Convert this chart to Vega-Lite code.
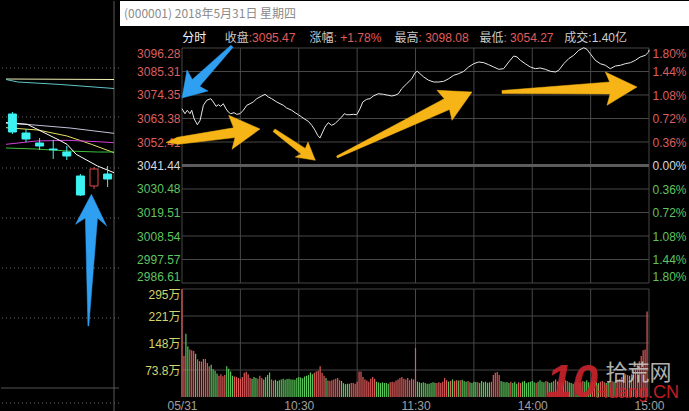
{
  "$schema": "https://vega.github.io/schema/vega-lite/v6.json",
  "background": "#000000",
  "padding": 0,
  "spacing": 0,
  "config": {
    "view": {"stroke": null},
    "concat": {"spacing": 0},
    "axis": {"domain": false, "ticks": false, "grid": false, "labelFont": "Liberation Sans", "labelFontSize": 12, "title": null, "labelOverlap": false},
    "font": "Liberation Sans"
  },
  "datasets": {
    "header": [{"t": "(000001) 2018年5月31日 星期四"}],
    "stats": [
      {"k": "分时", "v": ""},
      {"k": "收盘", "v": ":3095.47"},
      {"k": "涨幅", "v": ":  +1.78%"},
      {"k": "最高", "v": ":  3098.08"},
      {"k": "最低", "v": ":  3054.27"},
      {"k": "成交", "v": ":1.40亿"}
    ],
    "gridx": [{"m": 0}, {"m": 30}, {"m": 60}, {"m": 90}, {"m": 120}, {"m": 150}, {"m": 180}, {"m": 210}, {"m": 240}],
    "gridy": [
      {"p": 2986.61, "pct": -1.8}, {"p": 2997.57, "pct": -1.44}, {"p": 3008.54, "pct": -1.08}, {"p": 3019.51, "pct": -0.72},
      {"p": 3030.48, "pct": -0.36}, {"p": 3041.44, "pct": 0}, {"p": 3052.41, "pct": 0.36}, {"p": 3063.38, "pct": 0.72},
      {"p": 3074.35, "pct": 1.08}, {"p": 3085.31, "pct": 1.44}, {"p": 3096.28, "pct": 1.8}
    ],
    "prices": [
      {"m": 0, "p": 3067.95}, {"m": 1.5, "p": 3065.62}, {"m": 2.7, "p": 3067.21}, {"m": 4.1, "p": 3065.62}, {"m": 5.0, "p": 3067.21},
      {"m": 6.2, "p": 3063.29}, {"m": 7.9, "p": 3060.49}, {"m": 9.3, "p": 3062.54}, {"m": 11.0, "p": 3069.54}, {"m": 12.7, "p": 3071.87},
      {"m": 14.8, "p": 3072.62}, {"m": 16.1, "p": 3071.08}, {"m": 17.5, "p": 3069.07}, {"m": 18.7, "p": 3069.82}, {"m": 19.9, "p": 3069.07},
      {"m": 21.2, "p": 3070.29}, {"m": 22.6, "p": 3067.95}, {"m": 23.8, "p": 3066.41}, {"m": 25.0, "p": 3065.62}, {"m": 26.7, "p": 3066.09},
      {"m": 28.1, "p": 3065.34}, {"m": 29.8, "p": 3065.62}, {"m": 31.5, "p": 3067.21}, {"m": 33.3, "p": 3069.54}, {"m": 35.0, "p": 3070.29},
      {"m": 36.6, "p": 3071.08}, {"m": 38.4, "p": 3072.62}, {"m": 41.0, "p": 3073.88}, {"m": 42.7, "p": 3074.67}, {"m": 44.4, "p": 3073.41},
      {"m": 46.1, "p": 3072.62}, {"m": 48.7, "p": 3071.08}, {"m": 50.4, "p": 3070.29}, {"m": 52.1, "p": 3069.54}, {"m": 53.8, "p": 3068.28},
      {"m": 56.4, "p": 3067.21}, {"m": 58.1, "p": 3066.09}, {"m": 59.8, "p": 3065.15}, {"m": 61.5, "p": 3064.08}, {"m": 63.2, "p": 3063.01},
      {"m": 64.9, "p": 3062.07}, {"m": 66.7, "p": 3060.21}, {"m": 68.4, "p": 3057.87}, {"m": 69.7, "p": 3055.54}, {"m": 70.9, "p": 3054.27},
      {"m": 72.3, "p": 3057.08}, {"m": 73.5, "p": 3059.41}, {"m": 75.2, "p": 3061.42}, {"m": 76.9, "p": 3060.21}, {"m": 78.6, "p": 3060.95},
      {"m": 80.3, "p": 3062.54}, {"m": 82.1, "p": 3064.08}, {"m": 83.4, "p": 3065.62}, {"m": 84.6, "p": 3065.15}, {"m": 86.3, "p": 3065.15},
      {"m": 88.0, "p": 3065.34}, {"m": 89.8, "p": 3065.15}, {"m": 91.5, "p": 3067.95}, {"m": 92.9, "p": 3071.08}, {"m": 94.9, "p": 3072.34},
      {"m": 96.6, "p": 3072.62}, {"m": 98.3, "p": 3073.88}, {"m": 100.9, "p": 3074.95}, {"m": 103.5, "p": 3074.67}, {"m": 106.0, "p": 3074.21},
      {"m": 107.8, "p": 3073.88}, {"m": 109.5, "p": 3074.21}, {"m": 111.2, "p": 3074.95}, {"m": 112.9, "p": 3077.29}, {"m": 115.5, "p": 3079.62},
      {"m": 118.1, "p": 3081.95}, {"m": 119.8, "p": 3084.75}, {"m": 120.9, "p": 3085.41}, {"m": 122.3, "p": 3084.29}, {"m": 124.2, "p": 3082.75},
      {"m": 126.8, "p": 3081.21}, {"m": 129.4, "p": 3080.41}, {"m": 131.9, "p": 3080.41}, {"m": 134.5, "p": 3080.74}, {"m": 137.1, "p": 3081.95},
      {"m": 139.6, "p": 3083.54}, {"m": 142.2, "p": 3084.29}, {"m": 144.8, "p": 3085.41}, {"m": 147.3, "p": 3087.41}, {"m": 149.9, "p": 3088.95},
      {"m": 152.5, "p": 3089.75}, {"m": 155.1, "p": 3089.42}, {"m": 157.6, "p": 3088.49}, {"m": 160.2, "p": 3087.41}, {"m": 162.8, "p": 3086.34},
      {"m": 165.3, "p": 3086.62}, {"m": 167.9, "p": 3089.75}, {"m": 170.5, "p": 3092.55}, {"m": 172.2, "p": 3092.08}, {"m": 173.9, "p": 3090.54},
      {"m": 176.4, "p": 3088.95}, {"m": 179.0, "p": 3087.41}, {"m": 181.6, "p": 3086.62}, {"m": 184.1, "p": 3086.95}, {"m": 186.7, "p": 3086.34},
      {"m": 189.3, "p": 3085.41}, {"m": 191.9, "p": 3085.08}, {"m": 193.6, "p": 3085.87}, {"m": 196.2, "p": 3088.95}, {"m": 198.7, "p": 3091.29},
      {"m": 201.3, "p": 3092.87}, {"m": 203.9, "p": 3095.21}, {"m": 206.5, "p": 3096.4}, {"m": 208.1, "p": 3095.67}, {"m": 209.8, "p": 3093.62},
      {"m": 212.4, "p": 3090.54}, {"m": 215.0, "p": 3088.95}, {"m": 217.6, "p": 3088.21}, {"m": 220.1, "p": 3086.62}, {"m": 222.7, "p": 3087.88},
      {"m": 225.3, "p": 3088.21}, {"m": 227.8, "p": 3088.95}, {"m": 230.4, "p": 3089.42}, {"m": 233.0, "p": 3090.54}, {"m": 235.5, "p": 3092.08},
      {"m": 238.1, "p": 3092.87}, {"m": 239.8, "p": 3094.41}, {"m": 240, "p": 3095.47}
    ],
    "arrowsGold": [
      {"a": "Y1", "i": 1, "m": -8.22, "p": 3052.18}, {"a": "Y1", "i": 2, "m": -2.36, "p": 3054.61}, {"a": "Y1", "i": 3, "m": 26.52, "p": 3059.04},
      {"a": "Y1", "i": 4, "m": 24.0, "p": 3064.87}, {"a": "Y1", "i": 5, "m": 40.09, "p": 3058.48}, {"a": "Y1", "i": 6, "m": 25.7, "p": 3049.01},
      {"a": "Y1", "i": 7, "m": 27.24, "p": 3054.47}, {"a": "Y1", "i": 8, "m": -1.85, "p": 3051.34},
      {"a": "Y2", "i": 1, "m": 47.79, "p": 3058.48}, {"a": "Y2", "i": 2, "m": 63.37, "p": 3049.43}, {"a": "Y2", "i": 3, "m": 64.75, "p": 3052.41},
      {"a": "Y2", "i": 4, "m": 68.51, "p": 3043.87}, {"a": "Y2", "i": 5, "m": 58.23, "p": 3045.41}, {"a": "Y2", "i": 6, "m": 61.21, "p": 3046.81},
      {"a": "Y2", "i": 7, "m": 46.77, "p": 3057.31},
      {"a": "Y3", "i": 1, "m": 79.45, "p": 3045.83}, {"a": "Y3", "i": 2, "m": 134.8, "p": 3072.62}, {"a": "Y3", "i": 3, "m": 131.05, "p": 3076.54},
      {"a": "Y3", "i": 4, "m": 149.04, "p": 3075.75}, {"a": "Y3", "i": 5, "m": 138.76, "p": 3062.54}, {"a": "Y3", "i": 6, "m": 137.47, "p": 3067.58},
      {"a": "Y3", "i": 7, "m": 79.86, "p": 3044.99},
      {"a": "Y4", "i": 1, "m": 164.45, "p": 3076.45}, {"a": "Y4", "i": 2, "m": 219.8, "p": 3080.41}, {"a": "Y4", "i": 3, "m": 217.54, "p": 3085.08},
      {"a": "Y4", "i": 4, "m": 233.83, "p": 3078.08}, {"a": "Y4", "i": 5, "m": 218.42, "p": 3069.54}, {"a": "Y4", "i": 6, "m": 220.01, "p": 3074.81},
      {"a": "Y4", "i": 7, "m": 164.45, "p": 3075.05}
    ],
    "arrowsBlue": [
      {"a": "B1", "i": 1, "m": 25.13, "p": 3097.59}, {"a": "B1", "i": 2, "m": 5.29, "p": 3081.58}, {"a": "B1", "i": 3, "m": 2.57, "p": 3086.01},
      {"a": "B1", "i": 4, "m": 0, "p": 3072.95}, {"a": "B1", "i": 5, "m": 13.36, "p": 3076.21}, {"a": "B1", "i": 6, "m": 9.1, "p": 3078.41},
      {"a": "B1", "i": 7, "m": 26.26, "p": 3096.65}
    ],
    "leftArrow": [
      {"a": "B2", "i": 1, "d": 5.552, "lp": 2592.6}, {"a": "B2", "i": 2, "d": 5.364, "lp": 2938.2}, {"a": "B2", "i": 3, "d": 4.643, "lp": 2918.0},
      {"a": "B2", "i": 4, "d": 5.808, "lp": 3014.0}, {"a": "B2", "i": 5, "d": 6.931, "lp": 2912.6}, {"a": "B2", "i": 6, "d": 6.258, "lp": 2938.2},
      {"a": "B2", "i": 7, "d": 5.619, "lp": 2592.6}
    ],
    "leftGrid": [{"lp": 3418.2}, {"lp": 3261.4}, {"lp": 3098.2}, {"lp": 2938.2}, {"lp": 2778.2}, {"lp": 2618.2}, {"lp": 2346.2}],
    "ma": [
      {"ma": "L1", "d": -0.471, "lp": 3383.0}, {"ma": "L1", "d": 7.47, "lp": 3381.4},
      {"ma": "L2", "d": -0.471, "lp": 3381.4}, {"ma": "L2", "d": 0.404, "lp": 3373.4}, {"ma": "L2", "d": 3.567, "lp": 3365.4}, {"ma": "L2", "d": 7.47, "lp": 3352.6},
      {"ma": "L4", "d": -0.471, "lp": 3242.2}, {"ma": "L4", "d": 0.989, "lp": 3238.0}, {"ma": "L4", "d": 4.24, "lp": 3226.2}, {"ma": "L4", "d": 7.47, "lp": 3209.2},
      {"ma": "L5", "d": -0.471, "lp": 3227.2}, {"ma": "L5", "d": 1.884, "lp": 3219.8}, {"ma": "L5", "d": 4.017, "lp": 3200.6}, {"ma": "L5", "d": 5.808, "lp": 3174.0}, {"ma": "L5", "d": 7.47, "lp": 3147.2},
      {"ma": "L6", "d": -0.471, "lp": 3174.0}, {"ma": "L6", "d": 1.77, "lp": 3184.6}, {"ma": "L6", "d": 4.017, "lp": 3186.8}, {"ma": "L6", "d": 6.258, "lp": 3182.4}, {"ma": "L6", "d": 7.47, "lp": 3179.2},
      {"ma": "L7", "d": -0.471, "lp": 3162.2}, {"ma": "L7", "d": 1.75, "lp": 3159.0}, {"ma": "L7", "d": 4.038, "lp": 3152.6}, {"ma": "L7", "d": 6.258, "lp": 3149.4}, {"ma": "L7", "d": 7.47, "lp": 3149.4},
      {"ma": "L3", "d": -0.471, "lp": 3243.2}, {"ma": "L3", "d": 1.097, "lp": 3238.0}, {"ma": "L3", "d": 3.567, "lp": 3184.6}, {"ma": "L3", "d": 4.017, "lp": 3174.0}, {"ma": "L3", "d": 4.69, "lp": 3142.0}, {"ma": "L3", "d": 6.258, "lp": 3104.6}, {"ma": "L3", "d": 7.47, "lp": 3083.2}
    ],
    "candles": [
      {"d": 0, "o": 3271.0, "h": 3277.4, "l": 3207.0, "c": 3213.4, "dir": "down"},
      {"d": 1, "o": 3210.2, "h": 3223.0, "l": 3181.4, "c": 3191.0, "dir": "down"},
      {"d": 2, "o": 3178.2, "h": 3194.2, "l": 3155.8, "c": 3168.6, "dir": "down"},
      {"d": 3, "o": 3159.0, "h": 3187.8, "l": 3127.0, "c": 3156.4, "dir": "down"},
      {"d": 4, "o": 3149.4, "h": 3168.6, "l": 3123.8, "c": 3136.6, "dir": "down"},
      {"d": 5, "o": 3072.6, "h": 3079.0, "l": 3008.6, "c": 3011.8, "dir": "down"},
      {"d": 6, "o": 3040.6, "h": 3101.4, "l": 3031.0, "c": 3095.0, "dir": "up"},
      {"d": 7, "o": 3079.0, "h": 3104.6, "l": 3037.4, "c": 3063.0, "dir": "down"}
    ],
    "vol": [
      {"m":0,"v":295,"d":"u"},{"m":1,"v":113,"d":"u"},{"m":2,"v":173,"d":"d"},{"m":3,"v":138,"d":"d"},{"m":4,"v":130,"d":"u"},{"m":5,"v":128,"d":"u"},{"m":6,"v":126,"d":"u"},{"m":7,"v":118,"d":"d"},{"m":8,"v":103,"d":"u"},{"m":9,"v":98,"d":"u"},
      {"m":10,"v":97,"d":"u"},{"m":11,"v":104,"d":"u"},{"m":12,"v":104,"d":"u"},{"m":13,"v":93,"d":"u"},{"m":14,"v":84,"d":"u"},{"m":15,"v":88,"d":"d"},{"m":16,"v":76,"d":"d"},{"m":17,"v":72,"d":"d"},{"m":18,"v":64,"d":"d"},{"m":19,"v":58,"d":"u"},
      {"m":20,"v":62,"d":"u"},{"m":21,"v":57,"d":"u"},{"m":22,"v":60,"d":"u"},{"m":23,"v":84,"d":"d"},{"m":24,"v":77,"d":"d"},{"m":25,"v":70,"d":"d"},{"m":26,"v":58,"d":"d"},{"m":27,"v":56,"d":"u"},{"m":28,"v":55,"d":"u"},{"m":29,"v":52,"d":"u"},
      {"m":30,"v":50,"d":"u"},{"m":31,"v":55,"d":"u"},{"m":32,"v":66,"d":"u"},{"m":33,"v":69,"d":"u"},{"m":34,"v":62,"d":"u"},{"m":35,"v":52,"d":"u"},{"m":36,"v":50,"d":"d"},{"m":37,"v":55,"d":"d"},{"m":38,"v":52,"d":"d"},{"m":39,"v":50,"d":"u"},
      {"m":40,"v":58,"d":"u"},{"m":41,"v":52,"d":"u"},{"m":42,"v":48,"d":"d"},{"m":43,"v":55,"d":"d"},{"m":44,"v":60,"d":"d"},{"m":45,"v":67,"d":"d"},{"m":46,"v":48,"d":"u"},{"m":47,"v":45,"d":"u"},{"m":48,"v":47,"d":"d"},{"m":49,"v":44,"d":"d"},
      {"m":50,"v":46,"d":"d"},{"m":51,"v":48,"d":"d"},{"m":52,"v":50,"d":"d"},{"m":53,"v":47,"d":"d"},{"m":54,"v":49,"d":"d"},{"m":55,"v":50,"d":"d"},{"m":56,"v":48,"d":"d"},{"m":57,"v":48,"d":"d"},{"m":58,"v":47,"d":"d"},{"m":59,"v":52,"d":"d"},
      {"m":60,"v":55,"d":"d"},{"m":61,"v":53,"d":"d"},{"m":62,"v":51,"d":"d"},{"m":63,"v":56,"d":"d"},{"m":64,"v":58,"d":"d"},{"m":65,"v":60,"d":"d"},{"m":66,"v":67,"d":"d"},{"m":67,"v":62,"d":"d"},{"m":68,"v":66,"d":"u"},{"m":69,"v":70,"d":"u"},
      {"m":70,"v":72,"d":"u"},{"m":71,"v":84,"d":"u"},{"m":72,"v":66,"d":"u"},{"m":73,"v":58,"d":"u"},{"m":74,"v":52,"d":"d"},{"m":75,"v":45,"d":"u"},{"m":76,"v":44,"d":"u"},{"m":77,"v":46,"d":"u"},{"m":78,"v":48,"d":"u"},{"m":79,"v":50,"d":"u"},
      {"m":80,"v":52,"d":"u"},{"m":81,"v":46,"d":"u"},{"m":82,"v":44,"d":"d"},{"m":83,"v":38,"d":"d"},{"m":84,"v":35,"d":"d"},{"m":85,"v":36,"d":"d"},{"m":86,"v":36,"d":"d"},{"m":87,"v":38,"d":"u"},{"m":88,"v":38,"d":"u"},{"m":89,"v":36,"d":"u"},
      {"m":90,"v":42,"d":"u"},{"m":91,"v":70,"d":"u"},{"m":92,"v":70,"d":"u"},{"m":93,"v":55,"d":"u"},{"m":94,"v":48,"d":"u"},{"m":95,"v":45,"d":"u"},{"m":96,"v":42,"d":"u"},{"m":97,"v":50,"d":"u"},{"m":98,"v":55,"d":"u"},{"m":99,"v":50,"d":"u"},
      {"m":100,"v":42,"d":"d"},{"m":101,"v":40,"d":"d"},{"m":102,"v":38,"d":"d"},{"m":103,"v":40,"d":"d"},{"m":104,"v":38,"d":"d"},{"m":105,"v":38,"d":"d"},{"m":106,"v":36,"d":"d"},{"m":107,"v":40,"d":"u"},{"m":108,"v":42,"d":"u"},{"m":109,"v":40,"d":"u"},
      {"m":110,"v":45,"d":"u"},{"m":111,"v":48,"d":"u"},{"m":112,"v":52,"d":"u"},{"m":113,"v":55,"d":"u"},{"m":114,"v":50,"d":"u"},{"m":115,"v":48,"d":"u"},{"m":116,"v":52,"d":"u"},{"m":117,"v":46,"d":"u"},{"m":118,"v":50,"d":"u"},{"m":119,"v":48,"d":"u"},
      {"m":120,"v":134,"d":"u"},{"m":121,"v":42,"d":"d"},{"m":122,"v":40,"d":"d"},{"m":123,"v":38,"d":"d"},{"m":124,"v":40,"d":"d"},{"m":125,"v":38,"d":"d"},{"m":126,"v":36,"d":"d"},{"m":127,"v":36,"d":"d"},{"m":128,"v":38,"d":"d"},{"m":129,"v":40,"d":"d"},
      {"m":130,"v":39,"d":"d"},{"m":131,"v":38,"d":"u"},{"m":132,"v":40,"d":"u"},{"m":133,"v":38,"d":"u"},{"m":134,"v":42,"d":"u"},{"m":135,"v":52,"d":"u"},{"m":136,"v":46,"d":"u"},{"m":137,"v":42,"d":"d"},{"m":138,"v":44,"d":"u"},{"m":139,"v":48,"d":"d"},
      {"m":140,"v":44,"d":"u"},{"m":141,"v":46,"d":"u"},{"m":142,"v":45,"d":"d"},{"m":143,"v":46,"d":"u"},{"m":144,"v":47,"d":"d"},{"m":145,"v":44,"d":"d"},{"m":146,"v":42,"d":"d"},{"m":147,"v":44,"d":"u"},{"m":148,"v":40,"d":"d"},{"m":149,"v":38,"d":"d"},
      {"m":150,"v":42,"d":"d"},{"m":151,"v":41,"d":"d"},{"m":152,"v":40,"d":"u"},{"m":153,"v":38,"d":"d"},{"m":154,"v":44,"d":"d"},{"m":155,"v":40,"d":"d"},{"m":156,"v":42,"d":"d"},{"m":157,"v":39,"d":"d"},{"m":158,"v":40,"d":"d"},{"m":159,"v":42,"d":"u"},
      {"m":160,"v":60,"d":"u"},{"m":161,"v":66,"d":"u"},{"m":162,"v":68,"d":"u"},{"m":163,"v":60,"d":"u"},{"m":164,"v":44,"d":"d"},{"m":165,"v":42,"d":"d"},{"m":166,"v":40,"d":"d"},{"m":167,"v":41,"d":"d"},{"m":168,"v":38,"d":"d"},{"m":169,"v":42,"d":"u"},
      {"m":170,"v":38,"d":"d"},{"m":171,"v":42,"d":"d"},{"m":172,"v":36,"d":"d"},{"m":173,"v":40,"d":"u"},{"m":174,"v":38,"d":"u"},{"m":175,"v":42,"d":"d"},{"m":176,"v":44,"d":"d"},{"m":177,"v":38,"d":"d"},{"m":178,"v":40,"d":"d"},{"m":179,"v":42,"d":"d"},
      {"m":180,"v":44,"d":"d"},{"m":181,"v":40,"d":"d"},{"m":182,"v":38,"d":"u"},{"m":183,"v":42,"d":"d"},{"m":184,"v":46,"d":"d"},{"m":185,"v":42,"d":"d"},{"m":186,"v":40,"d":"d"},{"m":187,"v":44,"d":"u"},{"m":188,"v":42,"d":"d"},{"m":189,"v":38,"d":"d"},
      {"m":190,"v":40,"d":"d"},{"m":191,"v":44,"d":"u"},{"m":192,"v":48,"d":"u"},{"m":193,"v":42,"d":"d"},{"m":194,"v":40,"d":"u"},{"m":195,"v":38,"d":"d"},{"m":196,"v":42,"d":"u"},{"m":197,"v":46,"d":"u"},{"m":198,"v":44,"d":"u"},{"m":199,"v":40,"d":"d"},
      {"m":200,"v":38,"d":"d"},{"m":201,"v":36,"d":"d"},{"m":202,"v":40,"d":"u"},{"m":203,"v":42,"d":"d"},{"m":204,"v":38,"d":"d"},{"m":205,"v":40,"d":"u"},{"m":206,"v":44,"d":"u"},{"m":207,"v":42,"d":"d"},{"m":208,"v":46,"d":"d"},{"m":209,"v":40,"d":"d"},
      {"m":210,"v":38,"d":"d"},{"m":211,"v":42,"d":"u"},{"m":212,"v":44,"d":"u"},{"m":213,"v":40,"d":"d"},{"m":214,"v":38,"d":"d"},{"m":215,"v":42,"d":"u"},{"m":216,"v":44,"d":"u"},{"m":217,"v":40,"d":"u"},{"m":218,"v":38,"d":"d"},{"m":219,"v":42,"d":"d"},
      {"m":220,"v":40,"d":"u"},{"m":221,"v":44,"d":"u"},{"m":222,"v":42,"d":"d"},{"m":223,"v":46,"d":"u"},{"m":224,"v":48,"d":"u"},{"m":225,"v":50,"d":"u"},{"m":226,"v":55,"d":"u"},{"m":227,"v":58,"d":"u"},{"m":228,"v":62,"d":"u"},{"m":229,"v":60,"d":"u"},
      {"m":230,"v":58,"d":"d"},{"m":231,"v":62,"d":"u"},{"m":232,"v":70,"d":"u"},{"m":233,"v":78,"d":"u"},{"m":234,"v":88,"d":"u"},{"m":235,"v":98,"d":"u"},{"m":236,"v":112,"d":"u"},{"m":237,"v":128,"d":"u"},{"m":238,"v":130,"d":"u"},{"m":239,"v":234,"d":"u"}
    ]
  },
  "hconcat": [
    {
      "width": 118,
      "height": 411,
      "layer": [
        {
          "data": {"name": "leftGrid"},
          "mark": {"type": "rule", "color": "#6a6a6a", "strokeDash": [1, 3], "strokeWidth": 1},
          "encoding": {"y": {"field": "lp", "type": "quantitative", "scale": {"domain": [2317.4, 3632.6], "nice": false, "zero": false}, "axis": null}}
        },
        {
          "data": {"values": [{"lp": 2394.2}]},
          "mark": {"type": "rule", "color": "#555555", "strokeWidth": 1},
          "encoding": {"y": {"field": "lp", "type": "quantitative", "scale": {"domain": [2317.4, 3632.6], "nice": false, "zero": false}, "axis": null}}
        },
        {
          "data": {"values": [{"d": 7.47}]},
          "mark": {"type": "rule", "color": "#5a5a5a", "strokeWidth": 1},
          "encoding": {"x": {"field": "d", "type": "quantitative", "scale": {"domain": [-0.471, 7.47], "nice": false, "zero": false}, "axis": null}}
        },
        {
          "data": {"name": "ma"},
          "mark": {"type": "line", "strokeWidth": 1},
          "encoding": {
            "x": {"field": "d", "type": "quantitative", "scale": {"domain": [-0.471, 7.47], "nice": false, "zero": false}, "axis": null},
            "y": {"field": "lp", "type": "quantitative", "scale": {"domain": [2317.4, 3632.6], "nice": false, "zero": false}, "axis": null},
            "color": {"field": "ma", "type": "nominal", "scale": {"domain": ["L1", "L2", "L3", "L4", "L5", "L6", "L7"], "range": ["#f2f2b4", "#5ec4c8", "#ffffff", "#c4c0d8", "#e8e060", "#d040d8", "#3cc03c"]}, "legend": null}
          }
        },
        {
          "data": {"name": "candles"},
          "mark": {"type": "rule", "strokeWidth": 1},
          "encoding": {
            "x": {"field": "d", "type": "quantitative", "scale": {"domain": [-0.471, 7.47], "nice": false, "zero": false}, "axis": null},
            "y": {"field": "l", "type": "quantitative", "scale": {"domain": [2317.4, 3632.6], "nice": false, "zero": false}, "axis": null},
            "y2": {"field": "h"},
            "stroke": {"condition": {"test": "datum.dir === 'up'", "value": "#e04848"}, "value": "#3df2f2"}
          }
        },
        {
          "data": {"name": "candles"},
          "mark": {"type": "bar", "size": 8, "strokeWidth": 1},
          "encoding": {
            "x": {"field": "d", "type": "quantitative", "scale": {"domain": [-0.471, 7.47], "nice": false, "zero": false}, "axis": null},
            "y": {"field": "o", "type": "quantitative", "scale": {"domain": [2317.4, 3632.6], "nice": false, "zero": false}, "axis": null},
            "y2": {"field": "c"},
            "fill": {"condition": {"test": "datum.dir === 'up'", "value": "#000000"}, "value": "#3df2f2"},
            "stroke": {"condition": {"test": "datum.dir === 'up'", "value": "#e04848"}, "value": "#3df2f2"}
          }
        },
        {
          "data": {"name": "leftArrow"},
          "mark": {"type": "line", "interpolate": "linear-closed", "fill": "#2f9ff2", "stroke": "#2f9ff2", "strokeWidth": 0.5},
          "encoding": {
            "x": {"field": "d", "type": "quantitative", "scale": {"domain": [-0.471, 7.47], "nice": false, "zero": false}, "axis": null},
            "y": {"field": "lp", "type": "quantitative", "scale": {"domain": [2317.4, 3632.6], "nice": false, "zero": false}, "axis": null},
            "detail": {"field": "a"},
            "order": {"field": "i", "type": "quantitative"}
          }
        }
      ]
    },
    {
      "spacing": 0,
      "vconcat": [
        {
          "width": 467,
          "height": 25,
          "layer": [
            {
              "data": {"values": [{"x1": -31.86, "x2": 261.6}]},
              "mark": {"type": "rect", "color": "#ffffff"},
              "encoding": {
                "x": {"field": "x1", "type": "quantitative", "scale": {"domain": [0, 240], "nice": false, "zero": false}, "axis": null},
                "x2": {"field": "x2"}
              }
            },
            {
              "data": {"name": "header"},
              "mark": {"type": "text", "align": "left", "baseline": "middle", "font": "Noto Sans CJK SC", "fontSize": 12, "color": "#8a8a8a"},
              "encoding": {
                "x": {"datum": -29.8, "type": "quantitative", "scale": {"domain": [0, 240], "nice": false, "zero": false}, "axis": null},
                "text": {"field": "t"}
              }
            }
          ]
        },
        {
          "width": 467,
          "height": 18,
          "data": {"name": "stats"},
          "layer": [
            {
              "mark": {"type": "text", "align": "right", "baseline": "middle", "dy": 3, "font": "Noto Sans CJK SC", "fontSize": 12},
              "encoding": {
                "x": {"field": "k", "type": "nominal", "scale": {"type": "point", "domain": ["分时", "收盘", "s1", "涨幅", "s2", "最高", "s3", "最低", "s4", "成交"], "padding": 1.1096, "align": 0.2857}, "axis": null},
                "text": {"field": "k"},
                "color": {"condition": {"test": "datum.k === '分时'", "value": "#f2f2f2"}, "value": "#c8c8c8"}
              }
            },
            {
              "mark": {"type": "text", "align": "left", "baseline": "middle", "dy": 3, "font": "Liberation Sans, Noto Sans CJK SC", "fontSize": 12},
              "encoding": {
                "x": {"field": "k", "type": "nominal", "scale": {"type": "point", "domain": ["分时", "收盘", "s1", "涨幅", "s2", "最高", "s3", "最低", "s4", "成交"], "padding": 1.1096, "align": 0.2857}, "axis": null},
                "text": {"field": "v"},
                "color": {"condition": {"test": "datum.k === '成交'", "value": "#d0d0d0"}, "value": "#e05c5c"}
              }
            }
          ]
        },
        {
          "width": 467,
          "height": 235,
          "layer": [
            {
              "layer": [
                {
                  "data": {"name": "gridx"},
                  "mark": {"type": "rule", "color": "#474747", "strokeWidth": 1},
                  "encoding": {"x": {"field": "m", "type": "quantitative", "scale": {"domain": [0, 240], "nice": false, "zero": false}, "axis": null}}
                },
                {
                  "data": {"name": "gridy"},
                  "mark": {"type": "rule"},
                  "encoding": {
                    "y": {
                      "field": "p", "type": "quantitative",
                      "scale": {"domain": [2986.61, 3096.28], "nice": false, "zero": false},
                      "axis": {
                        "orient": "left",
                        "values": [2986.61, 2997.57, 3008.54, 3019.51, 3030.48, 3041.44, 3052.41, 3063.38, 3074.35, 3085.31, 3096.28],
                        "tickCount": 50,
                        "format": ".2f",
                        "labelColor": {"condition": [{"test": "datum.value > 3041.5", "value": "#dc5f5d"}, {"test": "datum.value < 3041.4", "value": "#5fc35f"}], "value": "#d8d8d8"},
                        "labelFlush": true,
                        "labelOverlap": false,
                        "labelPadding": 2,
                        "minExtent": 62,
                        "maxExtent": 62,
                        "title": null
                      }
                    },
                    "color": {"condition": {"test": "datum.pct === 0", "value": "#5c5c5c"}, "value": "#474747"},
                    "strokeWidth": {"condition": {"test": "datum.pct === 0", "value": 3}, "value": 1}
                  }
                },
                {
                  "data": {"name": "prices"},
                  "mark": {"type": "line", "color": "#e8e8e8", "strokeWidth": 1},
                  "encoding": {
                    "x": {"field": "m", "type": "quantitative", "scale": {"domain": [0, 240], "nice": false, "zero": false}, "axis": null},
                    "y": {"field": "p", "type": "quantitative", "scale": {"domain": [2986.61, 3096.28], "nice": false, "zero": false}}
                  }
                },
                {
                  "data": {"name": "arrowsGold"},
                  "mark": {"type": "line", "interpolate": "linear-closed", "fill": "#f6b416", "stroke": "#f6b416", "strokeWidth": 0.5},
                  "encoding": {
                    "x": {"field": "m", "type": "quantitative", "scale": {"domain": [0, 240], "nice": false, "zero": false}, "axis": null},
                    "y": {"field": "p", "type": "quantitative", "scale": {"domain": [2986.61, 3096.28], "nice": false, "zero": false}},
                    "detail": {"field": "a"},
                    "order": {"field": "i", "type": "quantitative"}
                  }
                },
                {
                  "data": {"name": "arrowsBlue"},
                  "mark": {"type": "line", "interpolate": "linear-closed", "fill": "#2f9ff2", "stroke": "#2f9ff2", "strokeWidth": 0.5},
                  "encoding": {
                    "x": {"field": "m", "type": "quantitative", "scale": {"domain": [0, 240], "nice": false, "zero": false}, "axis": null},
                    "y": {"field": "p", "type": "quantitative", "scale": {"domain": [2986.61, 3096.28], "nice": false, "zero": false}},
                    "detail": {"field": "a"},
                    "order": {"field": "i", "type": "quantitative"}
                  }
                }
              ]
            },
            {
              "data": {"name": "gridy"},
              "mark": {"type": "rule", "opacity": 0},
              "encoding": {
                "y": {
                  "field": "pct", "type": "quantitative",
                  "scale": {"domain": [-1.8, 1.8], "nice": false, "zero": false},
                  "axis": {
                    "orient": "right",
                    "values": [-1.8, -1.44, -1.08, -0.72, -0.36, 0, 0.36, 0.72, 1.08, 1.44, 1.8],
                    "tickCount": 50,
                    "labelExpr": "format(abs(datum.value), '.2f') + '%'",
                    "labelColor": {"condition": [{"test": "datum.value > 0.001", "value": "#dc5f5d"}, {"test": "datum.value < -0.001", "value": "#5fc35f"}], "value": "#d8d8d8"},
                    "labelFlush": true,
                    "labelOverlap": false,
                    "labelPadding": 3,
                    "minExtent": 42,
                    "maxExtent": 42,
                    "title": null
                  }
                }
              }
            }
          ],
          "resolve": {"scale": {"y": "independent"}, "axis": {"y": "independent"}}
        },
        {
          "width": 467,
          "height": 113,
          "layer": [
            {
              "data": {"name": "gridx"},
              "mark": {"type": "rule", "color": "#474747", "strokeWidth": 1},
              "encoding": {
                "x": {
                  "field": "m", "type": "quantitative",
                  "scale": {"domain": [0, 240], "nice": false, "zero": false},
                  "axis": {
                    "orient": "bottom",
                    "values": [0, 60, 120, 180, 240],
                    "tickCount": 50,
                    "labelExpr": "datum.value == 0 ? '05/31' : datum.value == 60 ? '10:30' : datum.value == 120 ? '11:30' : datum.value == 180 ? '14:00' : '15:00'",
                    "labelColor": "#a0a0a0",
                    "labelFlush": false,
                    "labelOverlap": false,
                    "labelPadding": 3,
                    "title": null
                  }
                },
                "y": {
                  "datum": 0, "type": "quantitative",
                  "scale": {"domain": [0, 308.9], "nice": false, "zero": false},
                  "axis": {
                    "orient": "left",
                    "values": [73.8, 147.6, 221.4, 295.2],
                    "tickCount": 50,
                    "labelExpr": "datum.value < 100 ? '73.8万' : format(datum.value, '.0f') + '万'",
                    "labelFont": "Liberation Sans, Noto Sans CJK SC",
                    "labelColor": "#d4d46a",
                    "labelFlush": 6,
                    "labelOverlap": false,
                    "labelPadding": 2,
                    "minExtent": 62,
                    "maxExtent": 62,
                    "title": null
                  }
                },
                "y2": {"datum": 295.2}
              }
            },
            {
              "data": {"values": [{"v": 73.8}, {"v": 147.6}, {"v": 221.4}, {"v": 295.2}]},
              "mark": {"type": "rule", "color": "#474747", "strokeWidth": 1},
              "encoding": {"y": {"field": "v", "type": "quantitative", "scale": {"domain": [0, 308.9], "nice": false, "zero": false}}}
            },
            {
              "data": {"name": "vol"},
              "mark": {"type": "rule", "strokeWidth": 1.2},
              "encoding": {
                "x": {"field": "m", "type": "quantitative", "scale": {"domain": [0, 240], "nice": false, "zero": false}},
                "y": {"field": "v", "type": "quantitative", "scale": {"domain": [0, 308.9], "nice": false, "zero": false}},
                "y2": {"datum": 0},
                "color": {"condition": {"test": "datum.d === 'u'", "value": "#e25c5c"}, "value": "#5cc85c"}
              }
            },
            {
              "data": {"values": [{"t": "10"}]},
              "mark": {"type": "text", "font": "Liberation Sans", "fontSize": 46, "fontWeight": "bold", "fontStyle": "italic", "color": "#c8232c", "opacity": 0.92, "baseline": "middle", "align": "center"},
              "encoding": {
                "x": {"datum": 200.5, "type": "quantitative", "scale": {"domain": [0, 240], "nice": false, "zero": false}},
                "y": {"datum": 38, "type": "quantitative", "scale": {"domain": [0, 308.9], "nice": false, "zero": false}},
                "text": {"field": "t"}
              }
            },
            {
              "data": {"values": [{"t": "拾荒网"}]},
              "mark": {"type": "text", "font": "Noto Sans CJK SC", "fontSize": 22, "color": "#c4c4c4", "opacity": 0.9, "baseline": "middle", "align": "center"},
              "encoding": {
                "x": {"datum": 234.6, "type": "quantitative", "scale": {"domain": [0, 240], "nice": false, "zero": false}},
                "y": {"datum": 66, "type": "quantitative", "scale": {"domain": [0, 308.9], "nice": false, "zero": false}},
                "text": {"field": "t"}
              }
            },
            {
              "data": {"values": [{"t": "Huang.CN"}]},
              "mark": {"type": "text", "font": "Liberation Sans", "fontSize": 18, "color": "#d0202a", "opacity": 0.92, "baseline": "middle", "align": "center"},
              "encoding": {
                "x": {"datum": 233.8, "type": "quantitative", "scale": {"domain": [0, 240], "nice": false, "zero": false}},
                "y": {"datum": 11, "type": "quantitative", "scale": {"domain": [0, 308.9], "nice": false, "zero": false}},
                "text": {"field": "t"}
              }
            }
          ]
        }
      ]
    }
  ]
}
